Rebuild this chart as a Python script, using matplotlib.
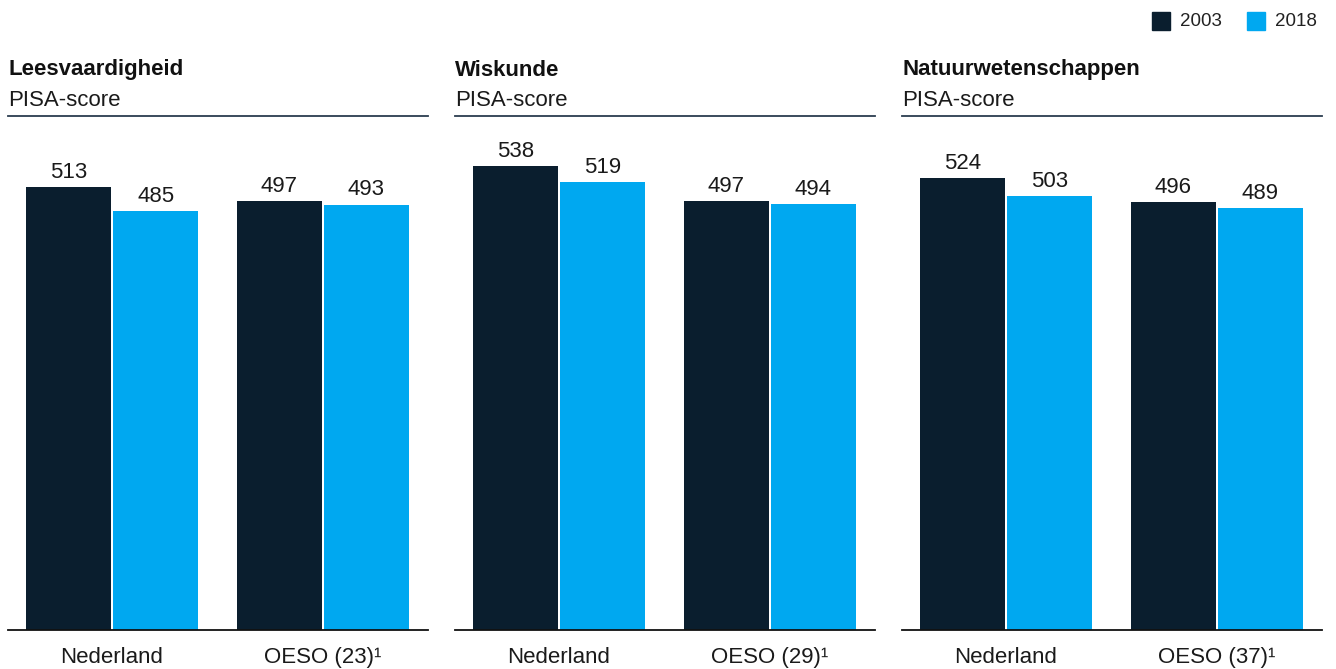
import matplotlib
matplotlib.use("Agg")
import matplotlib.pyplot as plt
from matplotlib.patches import Rectangle
import numpy as np

plt.rcParams['font.family'] = ['Liberation Sans', 'DejaVu Sans']

subjects = ["Leesvaardigheid", "Wiskunde", "Natuurwetenschappen"]
subtitle = "PISA-score"
groups = [["Nederland", "OESO (23)¹"], ["Nederland", "OESO (29)¹"], ["Nederland", "OESO (37)¹"]]
years = ["2003", "2018"]
scores_2003 = [[513, 497], [538, 497], [524, 496]]
scores_2018 = [[485, 493], [519, 494], [503, 489]]

c2003 = "#0a1e2e"
c2018 = "#00a8f0"
txt = "#1a1a1a"

W, H = 1336, 669
fig = plt.figure(figsize=(W / 100, H / 100), dpi=100)

lefts = [8, 455, 902]
width_px = 420
top_px, bottom_px = 116, 630
scale = 0.863  # px per score point
ymax = (bottom_px - top_px) / scale

bw = 0.404
off = 0.2067

for i, subj in enumerate(subjects):
    ax = fig.add_axes([lefts[i] / W, (H - bottom_px) / H, width_px / W, (bottom_px - top_px) / H])
    x = np.arange(len(groups[i]))
    b1 = ax.bar(x - off, scores_2003[i], width=bw, color=c2003, zorder=2)
    b2 = ax.bar(x + off, scores_2018[i], width=bw, color=c2018, zorder=2)
    for bars, vals in ((b1, scores_2003[i]), (b2, scores_2018[i])):
        for b, v in zip(bars, vals):
            ax.annotate(str(v), (b.get_x() + b.get_width() / 2, v), xytext=(0, 3),
                        textcoords="offset points", ha="center", va="bottom",
                        fontsize=16, color=txt)
    ax.set_xlim(-0.494, 1.5)
    ax.set_ylim(0, ymax)
    ax.set_yticks([])
    ax.set_xticks(x)
    ax.set_xticklabels(groups[i], fontsize=16, color=txt)
    ax.tick_params(axis='x', length=0, pad=12)
    for s in ("left", "right"):
        ax.spines[s].set_visible(False)
    ax.spines["bottom"].set_color("#111111")
    ax.spines["bottom"].set_linewidth(1.3)
    ax.spines["top"].set_color("#2b3d4f")
    ax.spines["top"].set_linewidth(1.3)
    ax.text(0, 1 + 46 / (bottom_px - top_px), subj, transform=ax.transAxes,
            fontsize=16, fontweight="bold", color="#111111", ha="left", va="center")
    ax.text(0, 1 + 16 / (bottom_px - top_px), subtitle, transform=ax.transAxes,
            fontsize=16, color=txt, ha="left", va="center")

# legend
sq = 18
for xpx, col, lab in ((1152, c2003, years[0]), (1247, c2018, years[1])):
    fig.add_artist(Rectangle((xpx / W, (H - 30) / H), sq / W, sq / H,
                             transform=fig.transFigure, color=col))
    fig.text((xpx + 28) / W, (H - 21) / H, lab, fontsize=13.5, color="#222222",
             ha="left", va="center")

fig.savefig("out.png", dpi=100)
